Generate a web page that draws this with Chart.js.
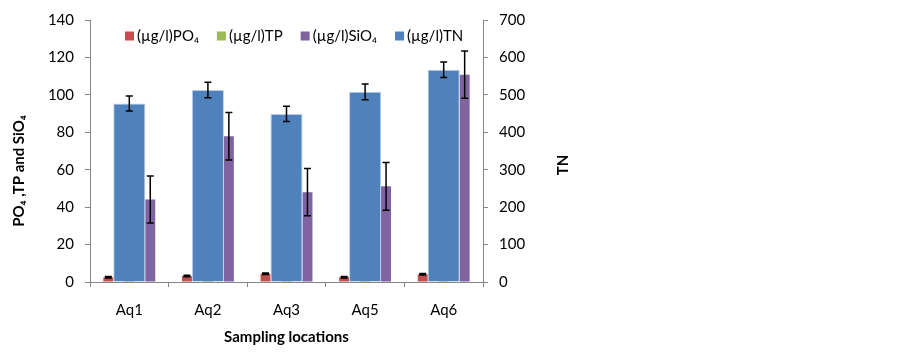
<!DOCTYPE html>
<html>
<head>
  <title>Nutrients by sampling location</title>
  <script src="https://cdn.jsdelivr.net/npm/chart.js"></script>
  <style>
    body {
      margin: 0;
      background-color: #fff;
    }
    .wrap {
      width: 903px;
      height: 354px;
    }
  </style>
</head>
<body>
  <div class="wrap">
    <canvas id="nutrientChart" width="903" height="354"></canvas>
  </div>

  <script>
    // values
    const locations = ['Aq1', 'Aq2', 'Aq3', 'Aq5', 'Aq6'];
    const po4 = [2.5, 3.2, 4.4, 2.6, 4.1];
    const po4Err = [0.4, 0.4, 0.4, 0.4, 0.4];
    const tp = [3.0, 3.8, 5.0, 3.2, 4.6];
    const sio4 = [44.1, 77.9, 48.0, 51.1, 110.8];
    const sio4Err = [12.6, 12.7, 12.6, 12.7, 12.6];
    const tn = [477, 513, 449, 508, 567];
    const tnErr = [20, 21, 20.5, 21, 20.5];

    const leftTicks = [0, 20, 40, 60, 80, 100, 120, 140];
    const rightTicks = [0, 100, 200, 300, 400, 500, 600, 700];

    const axisGrey = '#868686';
    const fontName = 'Lato';

    // error bars drawn on top of the bars
    const errorBars = {
      id: 'errorBars',
      afterDatasetsDraw(chart) {
        const ctx = chart.ctx;
        chart.data.datasets.forEach((ds, i) => {
          if (!ds.errors) return;
          const meta = chart.getDatasetMeta(i);
          const scale = chart.scales[meta.yAxisID];
          ctx.save();
          ctx.strokeStyle = '#000';
          ctx.lineWidth = 1.5;
          meta.data.forEach((bar, j) => {
            const v = ds.data[j];
            const e = ds.errors[j];
            const top = scale.getPixelForValue(v + e);
            const bottom = scale.getPixelForValue(v - e);
            ctx.beginPath();
            ctx.moveTo(bar.x, top);
            ctx.lineTo(bar.x, bottom);
            ctx.moveTo(bar.x - 3.5, top);
            ctx.lineTo(bar.x + 3.5, top);
            ctx.moveTo(bar.x - 3.5, bottom);
            ctx.lineTo(bar.x + 3.5, bottom);
            ctx.stroke();
          });
          ctx.restore();
        });
      }
    };

    // one-row legend inside the plot, like the original
    const innerLegend = {
      id: 'innerLegend',
      afterDraw(chart) {
        const ctx = chart.ctx;
        const y = chart.chartArea.top + 16;
        let x = 125;
        ctx.save();
        ctx.font = '15px ' + fontName;
        ctx.textBaseline = 'middle';
        ctx.textAlign = 'left';
        chart.data.datasets.forEach(ds => {
          ctx.fillStyle = ds.backgroundColor;
          ctx.fillRect(x, y - 4.5, 9, 9);
          ctx.fillStyle = '#000';
          ctx.fillText(ds.label, x + 12, y);
          x += 12 + ctx.measureText(ds.label).width + 18;
        });
        ctx.restore();
      }
    };

    // axis titles placed like the original (bottom-to-top text)
    const sideTitles = {
      id: 'sideTitles',
      afterDraw(chart) {
        const ctx = chart.ctx;
        const put = (text, x, y) => {
          ctx.save();
          ctx.fillStyle = '#000';
          ctx.font = 'bold 15px ' + fontName;
          ctx.textAlign = 'center';
          ctx.textBaseline = 'middle';
          ctx.translate(x, y);
          ctx.rotate(-Math.PI / 2);
          ctx.fillText(text, 0, 0);
          ctx.restore();
        };
        put('PO\u2084 ,TP and SiO\u2084', 19, 171);
        put('TN', 563, 165);
      }
    };

    Chart.defaults.font.family = fontName;
    Chart.defaults.font.size = 15;
    Chart.defaults.color = '#000';

    const ctx = document.getElementById('nutrientChart').getContext('2d');
    const chart = new Chart(ctx, {
      type: 'bar',
      data: {
        labels: locations,
        datasets: [
          {
            label: '(\u00b5g/l)PO\u2084',
            data: po4,
            errors: po4Err,
            backgroundColor: '#C0504D',
            yAxisID: 'y',
            categoryPercentage: 0.8,
            barPercentage: 0.476
          },
          {
            label: '(\u00b5g/l)TP',
            data: tp,
            backgroundColor: '#9BBB59',
            yAxisID: 'y',
            categoryPercentage: 0.8,
            barPercentage: 0.476
          },
          {
            label: '(\u00b5g/l)SiO\u2084',
            data: sio4,
            errors: sio4Err,
            backgroundColor: '#8064A2',
            yAxisID: 'y',
            categoryPercentage: 0.8,
            barPercentage: 0.476
          },
          {
            label: '(\u00b5g/l)TN',
            data: tn,
            errors: tnErr,
            backgroundColor: '#4F81BD',
            borderColor: '#B9CDE5',
            borderWidth: 1,
            yAxisID: 'y1',
            grouped: false,
            order: -1,
            categoryPercentage: 0.8,
            barPercentage: 0.51
          }
        ]
      },
      options: {
        responsive: false,
        animation: false,
        layout: {
          padding: { left: 0, right: 360, top: 0, bottom: 0 }
        },
        scales: {
          x: {
            grid: { drawOnChartArea: false, color: axisGrey, tickLength: 5 },
            border: { color: axisGrey },
            ticks: { padding: 14 },
            title: {
              display: true,
              text: 'Sampling locations',
              font: { weight: 'bold', size: 15 },
              padding: { top: 0, bottom: 8 }
            },
            afterFit: s => { s.height = 72; }
          },
          y: {
            position: 'left',
            min: 0,
            max: 140,
            afterBuildTicks: s => { s.ticks = leftTicks.map(v => ({ value: v })); },
            grid: { drawOnChartArea: false, color: axisGrey, tickLength: 5 },
            border: { color: axisGrey },
            ticks: { padding: 11 },
            stacked: false,
            afterFit: s => { s.width = 90; }
          },
          y1: {
            position: 'right',
            min: 0,
            max: 700,
            afterBuildTicks: s => { s.ticks = rightTicks.map(v => ({ value: v })); },
            grid: { drawOnChartArea: false, color: axisGrey, tickLength: 5 },
            border: { color: axisGrey },
            ticks: { padding: 11 },
            stacked: false,
            afterFit: s => { s.width = 60; }
          }
        },
        plugins: {
          legend: { display: false },
          tooltip: { enabled: false }
        }
      },
      plugins: [errorBars, innerLegend, sideTitles]
    });
  </script>
</body>
</html>
